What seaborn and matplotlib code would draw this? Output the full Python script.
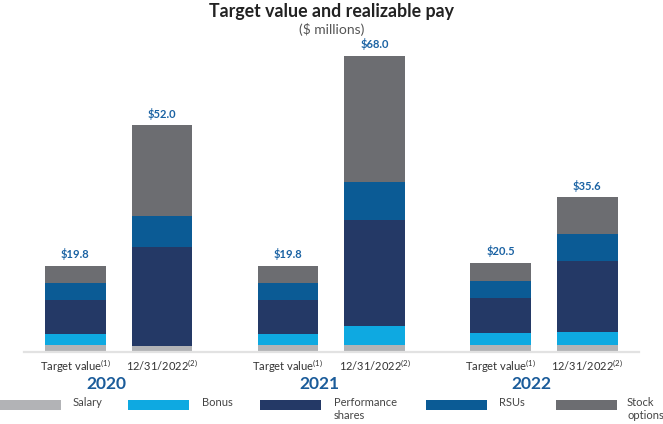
import matplotlib
matplotlib.use('Agg')
import matplotlib.pyplot as plt
import seaborn as sns
import numpy as np
from matplotlib.patches import Rectangle

# ---- data ----
years = ['2020', '2021', '2022']
bar_labels = ['Target value$^{(1)}$', '12/31/2022$^{(2)}$'] * 3
positions = [0, 1, 2.453, 3.453, 4.906, 5.906]
components = ['Salary', 'Bonus', 'Performance\nshares', 'RSUs', 'Stock\noptions']
salary = [1.5, 1.4, 1.5, 1.5, 1.6, 1.5]
bonus = [2.7, 0.0, 2.7, 4.4, 2.7, 3.1]
perf = [7.8, 22.6, 7.8, 24.3, 8.1, 16.3]
rsus = [3.9, 7.2, 3.9, 8.8, 4.0, 6.1]
options = [3.9, 20.8, 3.9, 29.0, 4.1, 8.6]
colors = ['#b2b3b6', '#0ea9e1', '#243966', '#0b5b95', '#6c6d71']

sns.set_theme(style='white')
plt.rcParams['font.family'] = ['Lato', 'DejaVu Sans']
plt.rcParams['mathtext.default'] = 'regular'

W, H = 663, 424
fig = plt.figure(figsize=(W / 100, H / 100), dpi=100)
ax = fig.add_axes([24 / W, 72 / H, 615 / W, 312 / H])

series = [salary, bonus, perf, rsus, options]
bottom = np.zeros(len(positions))
for vals, c in zip(series, colors):
    sns.barplot(x=positions, y=vals, bottom=bottom, native_scale=True, orient='x',
                width=0.7, color=c, linewidth=0, saturation=1, ax=ax, errorbar=None)
    bottom = bottom + np.array(vals)

totals = bottom
for p, t in zip(positions, totals):
    ax.text(p, t + 1.2, f"\\${t:.1f}", ha='center', va='bottom', fontsize=8,
            fontweight='bold', color='#1a62a3')

ax.set_xlim(-0.592, 6.502)
ax.set_ylim(0, 71.6)
ax.set_xticks(positions)
ax.set_xticklabels(bar_labels, fontsize=8, color='#333333')
ax.tick_params(axis='x', length=0, pad=4)
ax.set_yticks([])
for s in ['top', 'right', 'left']:
    ax.spines[s].set_visible(False)
ax.spines['bottom'].set_color('#e2e2e2')
ax.spines['bottom'].set_linewidth(1.6)
ax.set_xlabel('')
ax.set_ylabel('')

# year labels
for i, y in enumerate(years):
    cx = (positions[2 * i] + positions[2 * i + 1]) / 2 - 0.14
    ax.text(cx, -7.3, y, ha='center', va='center', fontsize=12.5, fontweight='bold',
            color='#1b5c9a', transform=ax.transData)

# title
fig.text(0.5, 1 - 11 / H, 'Target value and realizable pay', ha='center', va='center',
         fontsize=12.8, fontweight='bold', color='#222222')
fig.text(0.5, 1 - 30 / H, '(\\$ millions)', ha='center', va='center',
         fontsize=10, color='#555555')

# legend
patch_x = [0, 128, 260, 426, 556]
text_x = [73, 202, 334, 499, 627]
for px, tx, lab, c in zip(patch_x, text_x, components, colors):
    fig.add_artist(Rectangle((px / W, (H - 410) / H), 61 / W, 10 / H,
                             transform=fig.transFigure, color=c, lw=0))
    fig.text(tx / W, 1 - 397 / H, lab, ha='left', va='top', fontsize=8,
             color='#444444', linespacing=1.2)

fig.savefig('out.png', dpi=100)
